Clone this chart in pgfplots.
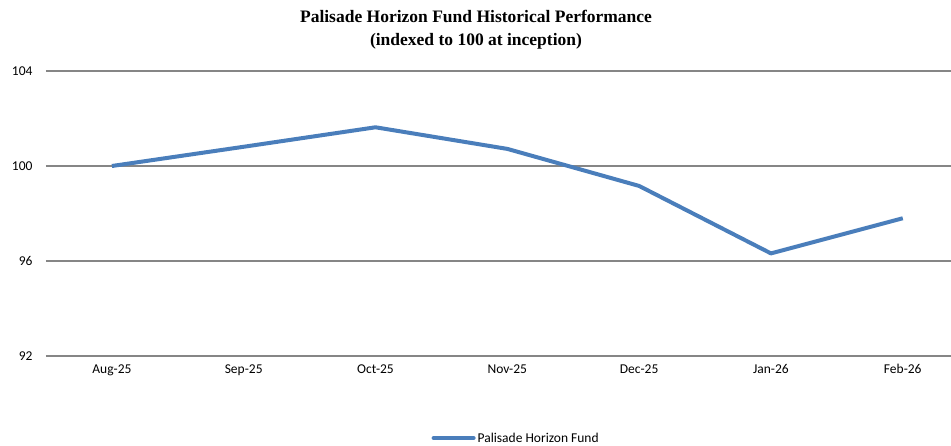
\documentclass[border=0pt]{standalone}
\usepackage{fontspec}
\setmainfont{Carlito}
\newfontfamily\timesfont{Liberation Serif}
\usepackage{pgfplots}
\pgfplotsset{compat=1.18}
\definecolor{serblue}{RGB}{74,126,187}
\definecolor{gridgray}{RGB}{134,134,134}
\begin{document}
\begin{tikzpicture}
\useasboundingbox (0,0) rectangle (951bp,446bp);
\node[font=\timesfont\bfseries\fontsize{17.5bp}{23bp}\selectfont, align=center, anchor=center] at (476bp,416bp) {Palisade Horizon Fund Historical Performance\\(indexed to 100 at inception)};
\begin{axis}[
  at={(46bp,90bp)}, anchor=south west,
  scale only axis,
  width=905bp, height=285bp,
  xmin=-0.5, xmax=6.366,
  ymin=92, ymax=104,
  ytick={92,96,100,104},
  xtick={0,1,2,3,4,5,6},
  xticklabels={Aug-25,Sep-25,Oct-25,Nov-25,Dec-25,Jan-26,Feb-26},
  axis line style={draw=none},
  tick style={draw=none},
  ymajorgrids,
  grid style={gridgray, line width=1.2bp},
  ticklabel style={font=\fontsize{13.5bp}{16bp}\selectfont},
  /pgf/number format/assume math mode=true,
  yticklabel style={xshift=-10bp},
  xticklabel style={yshift=-5bp},
  legend style={draw=none, at={(0.5195,-0.2877)}, anchor=center, font=\fontsize{13.5bp}{16bp}\selectfont, inner sep=0pt, /tikz/every even column/.append style={column sep=0pt}},
  legend image code/.code={\draw[serblue, line width=4bp, line cap=round] (0bp,0bp) -- (40bp,0bp);},
  clip=false,
]
\addplot[serblue, line width=4bp, line join=round] coordinates {
  (0,100.0) (1,100.81) (2,101.63) (3,100.72) (4,99.16) (5,96.32) (6,97.80)
};
\addlegendentry[text depth=0pt, xshift=-2bp]{Palisade Horizon Fund}
\end{axis}
\end{tikzpicture}
\end{document}
